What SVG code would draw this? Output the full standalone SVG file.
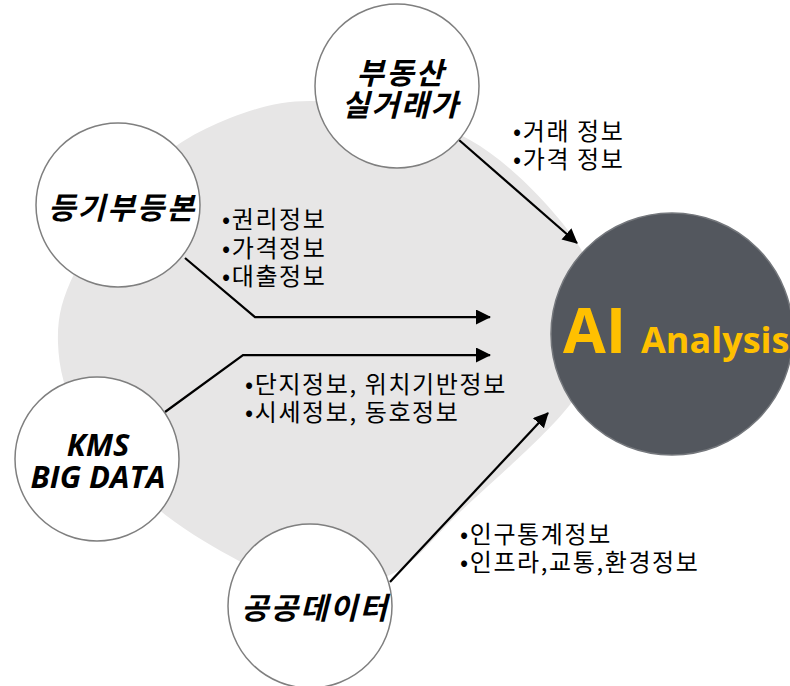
<svg xmlns="http://www.w3.org/2000/svg" width="790" height="686" viewBox="0 0 790 686">
  <defs>
    <marker id="arr" markerUnits="userSpaceOnUse" markerWidth="16" markerHeight="16" refX="14" refY="7.5" orient="auto">
      <path d="M0,0 L15,7.5 L0,15 Z" fill="#000"/>
    </marker>
  </defs>
  <style>
    .bg{fill:#e7e6e6}
    .node{fill:#fff;stroke:#7f7f7f;stroke-width:1.5}
    .lbl{font-family:"Noto Sans CJK KR",sans-serif;font-weight:700;font-style:italic;font-size:30px;letter-spacing:2px;text-anchor:middle;fill:#000}
    .lat{font-family:"Open Sans","Noto Sans CJK KR",sans-serif;font-weight:700;font-style:italic;font-size:31px;text-anchor:middle;fill:#000}
    .info{font-family:"Noto Sans CJK KR",sans-serif;font-size:24px;letter-spacing:1.6px;fill:#000}
    .conn{fill:none;stroke:#000;stroke-width:2.25;marker-end:url(#arr)}
    .ai{font-family:"Open Sans","Noto Sans",sans-serif;font-weight:700;fill:#ffc000}
  </style>

  <path id="background" class="bg" d="M330,102 C370,105.7 429.2,117 470,140 C510.8,163 553.7,209.2 575,240 C596.3,270.8 598.5,298 598,325 C597.5,352 595,370.8 572,402 C549,433.2 490.3,483.2 460,512 C429.7,540.8 416.7,562.8 390,575 C363.3,587.2 326.7,588.2 300,585 C273.3,581.8 255,569.8 230,556 C205,542.2 175,524.7 150,502 C125,479.3 95.3,446.5 80,420 C64.7,393.5 58.8,367.7 58,343 C57.2,318.3 61.3,300 75,272 C88.7,244 114.2,200.7 140,175 C165.8,149.3 198.3,130.2 230,118 C261.7,105.8 290,98.3 330,102 Z"/>

  <g id="connectors">
    <path class="conn" d="M459,140 L577,243"/>
    <path class="conn" d="M185,258 L255,317 L490,317"/>
    <path class="conn" d="M165,412 L243,355 L490,355"/>
    <path class="conn" d="M390,582 L548,413"/>
  </g>

  <g id="labels">
    <text class="info" x="513" y="140">•거래 정보</text>
    <text class="info" x="513" y="168">•가격 정보</text>
    <text class="info" x="222" y="228">•권리정보</text>
    <text class="info" x="222" y="257">•가격정보</text>
    <text class="info" x="222" y="285">•대출정보</text>
    <text class="info" x="245" y="393">•단지정보, 위치기반정보</text>
    <text class="info" x="245" y="421">•시세정보, 동호정보</text>
    <text class="info" x="460" y="543">•인구통계정보</text>
    <text class="info" x="460" y="571">•인프라,교통,환경정보</text>
  </g>

  <g id="node-realtrade">
    <circle class="node" cx="397" cy="86" r="82"/>
    <text class="lbl" x="401" y="84">부동산</text>
    <text class="lbl" x="401" y="116">실거래가</text>
  </g>

  <g id="node-registry">
    <circle class="node" cx="118" cy="205" r="82"/>
    <text class="lbl" x="122" y="219">등기부등본</text>
  </g>

  <g id="node-kms">
    <circle class="node" cx="97" cy="459" r="82"/>
    <text class="lat" x="98" y="456">KMS</text>
    <text class="lat" x="98" y="488">BIG DATA</text>
  </g>

  <g id="node-public">
    <circle class="node" cx="310" cy="606" r="82"/>
    <text class="lbl" x="315" y="619">공공데이터</text>
  </g>

  <g id="node-ai">
    <circle cx="672" cy="334" r="121" fill="#53575e" stroke="#74777c" stroke-width="1.5"/>
    <text class="ai" x="563" y="353" font-size="62">AI</text>
    <text class="ai" x="641" y="353" font-size="36">Analysis</text>
  </g>
</svg>
